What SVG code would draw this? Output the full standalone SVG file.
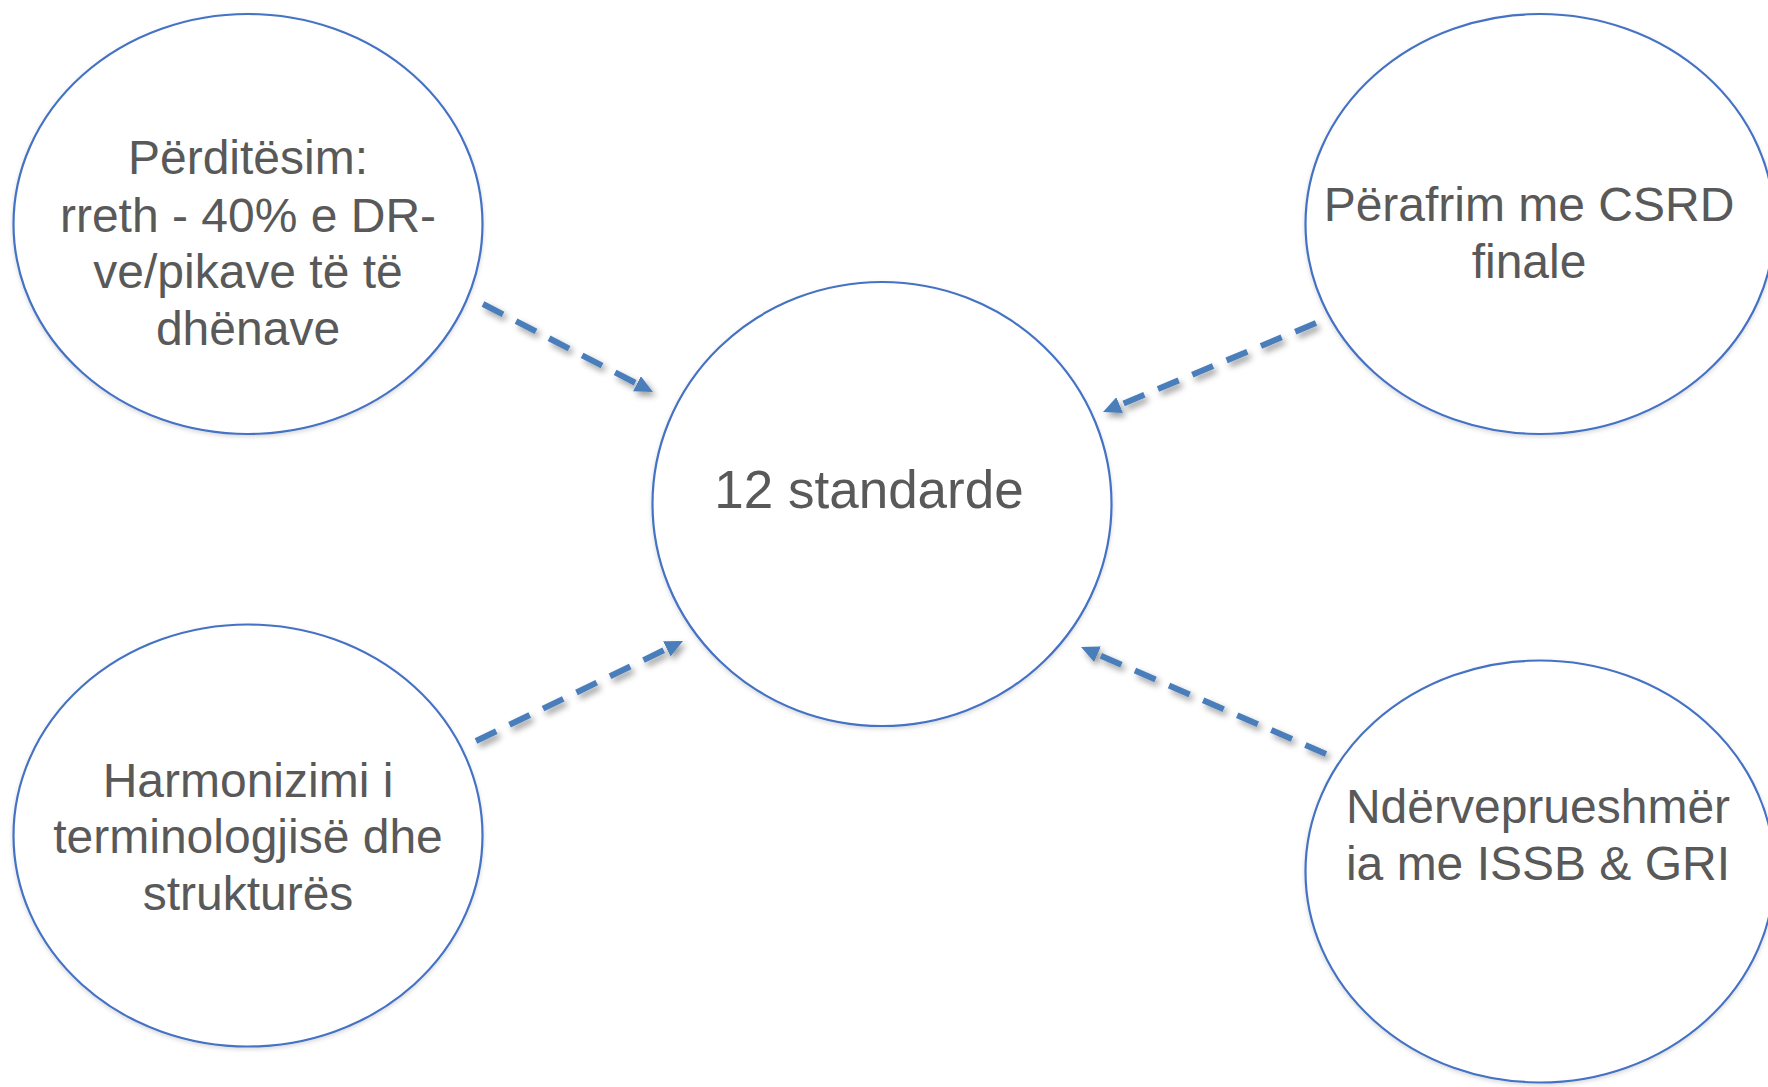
<svg xmlns="http://www.w3.org/2000/svg" width="1768" height="1087" viewBox="0 0 1768 1087">
  <defs>
    <filter id="shadow" x="-20%" y="-20%" width="140%" height="140%">
      <feDropShadow dx="3" dy="4" stdDeviation="3" flood-color="#000000" flood-opacity="0.4"/>
    </filter>
    <filter id="cshadow" x="-10%" y="-10%" width="120%" height="120%">
      <feDropShadow dx="0" dy="2" stdDeviation="2" flood-color="#000000" flood-opacity="0.15"/>
    </filter>
    <marker id="arrow" viewBox="0 0 18 17" refX="6" refY="8.5" markerWidth="18" markerHeight="17" markerUnits="userSpaceOnUse" orient="auto">
      <path d="M0,0 L18,8.5 L0,17 z" fill="#4A7EBB"/>
    </marker>
  </defs>
  <style>
    .node ellipse { fill: #FFFFFF; stroke: #4472C4; stroke-width: 2.2; }
    .label { font-family: "Liberation Sans", Arial, sans-serif; font-size: 48px; fill: #595959; text-anchor: middle; }
    .big { font-size: 53px; }
    .conn { fill: none; stroke: #4A7EBB; stroke-width: 6; stroke-dasharray: 22.5 14.7; }
  </style>
  <rect x="0" y="0" width="1768" height="1087" fill="#FFFFFF"/>

  <g id="node-perditesim" class="node">
    <ellipse cx="248" cy="224" rx="234.5" ry="210" filter="url(#cshadow)"/>
    <text class="label" x="248" y="174">Përditësim:</text>
    <text class="label" x="248" y="232">rreth - 40% e DR-</text>
    <text class="label" x="248" y="288">ve/pikave të të</text>
    <text class="label" x="248" y="345">dhënave</text>
  </g>

  <g id="node-standarde" class="node">
    <ellipse cx="882" cy="504" rx="229.5" ry="222" filter="url(#cshadow)"/>
    <text class="label big" x="869" y="508">12 standarde</text>
  </g>

  <g id="node-perafrim" class="node">
    <ellipse cx="1540" cy="224" rx="234.5" ry="210" filter="url(#cshadow)"/>
    <text class="label" x="1529" y="221">Përafrim me CSRD</text>
    <text class="label" x="1529" y="278">finale</text>
  </g>

  <g id="node-harmonizimi" class="node">
    <ellipse cx="248" cy="835.5" rx="234.5" ry="211" filter="url(#cshadow)"/>
    <text class="label" x="248" y="797">Harmonizimi i</text>
    <text class="label" x="248" y="853">terminologjisë dhe</text>
    <text class="label" x="248" y="910">strukturës</text>
  </g>

  <g id="node-nderveprueshmeria" class="node">
    <ellipse cx="1540" cy="871.5" rx="234.5" ry="211" filter="url(#cshadow)"/>
    <text class="label" x="1538" y="823">Ndërveprueshmër</text>
    <text class="label" x="1538" y="880">ia me ISSB &amp; GRI</text>
  </g>

  <g id="connectors" filter="url(#shadow)">
    <path class="conn" d="M483,304 L642.3,386.5" marker-end="url(#arrow)"/>
    <path class="conn" d="M1316,323 L1114.1,407.4" marker-end="url(#arrow)"/>
    <path class="conn" d="M476,741 L672.2,646.2" marker-end="url(#arrow)"/>
    <path class="conn" d="M1326,754 L1092,651.8" marker-end="url(#arrow)"/>
  </g>
</svg>
